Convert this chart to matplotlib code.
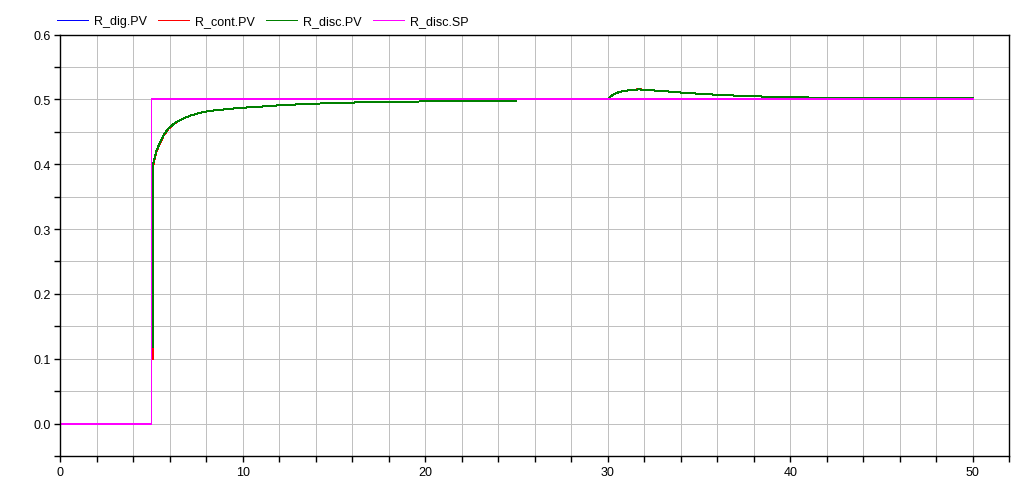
#!/usr/bin/env python3
import numpy as np
import matplotlib
matplotlib.use("Agg")
import matplotlib.pyplot as plt
from matplotlib.ticker import FixedLocator, FuncFormatter

plt.rcParams['font.family'] = ['Liberation Sans', 'DejaVu Sans']

# set point (step at t=5)
t_sp = [0, 5.0, 5.0, 50.0]
sp = [0.0, 0.0, 0.5, 0.5]

# process values
t_pv = [0, 5.0, 5.0, 5.055, 5.055, 5.12, 5.2, 5.29, 5.44, 5.66, 5.94, 6.3, 6.76, 7.13, 7.6, 8.1,
        8.7, 9.2, 9.8, 10.9, 12.2, 13.5, 15.1, 17.5, 21.0, 25.0, 25.0, 30.0, 30.15, 30.33,
        30.66, 31.15, 31.7, 32.45, 33.25, 33.95, 34.75, 35.7, 36.8, 38.3, 40.6, 46.0, 50.0]
pv_disc = [0.0, 0.0, 0.118, 0.118, 0.3936, 0.404, 0.414, 0.422, 0.432, 0.445, 0.4555, 0.464, 0.471,
           0.475, 0.479, 0.482, 0.4838, 0.4853, 0.4868, 0.4888, 0.4913, 0.4930, 0.4946, 0.4962,
           0.4972, 0.4975, 0.5, 0.5, 0.5046, 0.508, 0.5118, 0.514, 0.5155, 0.514, 0.5124,
           0.5108, 0.5093, 0.5077, 0.5062, 0.5046, 0.5031, 0.5017, 0.5015]
pv_cont = [0.0, 0.0, 0.099, 0.099, 0.3900, 0.402, 0.412, 0.421, 0.431, 0.444, 0.4550, 0.4638, 0.4708,
           0.4750, 0.4790, 0.4820, 0.4838, 0.4853, 0.4868, 0.4888, 0.4913, 0.4930, 0.4946, 0.4962,
           0.4972, 0.4975, 0.5, 0.5, 0.5046, 0.508, 0.5118, 0.514, 0.5157, 0.514, 0.5124,
           0.5108, 0.5093, 0.5077, 0.5062, 0.5046, 0.5031, 0.5017, 0.5015]
pv_dig = list(pv_cont)

names = ["R_dig.PV", "R_cont.PV", "R_disc.PV", "R_disc.SP"]
colors = ["#0000ff", "#ff0000", "#008000", "#ff00ff"]

fig = plt.figure(figsize=(10.34, 4.81), dpi=100)
# axes box placed so the 0 / 0.5 levels and t=5 fall on pixel centres (crisp 1px lines)
ax = fig.add_axes([60.25 / 1034, 24.05 / 481, 949 / 1034, 421.33 / 481])

lines = []
for t, y, c in [(t_pv, pv_dig, colors[0]), (t_pv, pv_cont, colors[1]),
                (t_pv, pv_disc, colors[2]), (t_sp, sp, colors[3])]:
	lines += ax.plot(t, y, color=c, lw=0.72, antialiased=False, snap=False)

ax.set_xlim(0, 52)
ax.set_ylim(-0.05, 0.6)

xt = np.arange(0, 53, 2)
yt = np.round(np.arange(-0.05, 0.601, 0.05), 2)
ax.xaxis.set_major_locator(FixedLocator(xt))
ax.yaxis.set_major_locator(FixedLocator(yt))
ax.xaxis.set_major_formatter(FuncFormatter(lambda v, p: "%d" % round(v) if round(v) % 10 == 0 else ""))
ax.yaxis.set_major_formatter(FuncFormatter(lambda v, p: "%.1f" % v if abs(round(v * 20)) % 2 == 0 else ""))
ax.tick_params(direction="out", length=4, width=1, labelsize=9, color="black", pad=3)

ax.grid(True, color="#c0c0c0", lw=0.72, antialiased=False)
ax.set_axisbelow(True)
for s in ax.spines.values():
	s.set_linewidth(1)
	s.set_color("black")

fig.legend(lines, names, loc="center left", bbox_to_anchor=(57 / 1034, 1 - 22 / 481), ncol=4,
           frameon=False, fontsize=9, handlelength=2.5, handletextpad=0.45, columnspacing=0.9,
           borderpad=0, borderaxespad=0)

plt.savefig("out.png", dpi=100)
